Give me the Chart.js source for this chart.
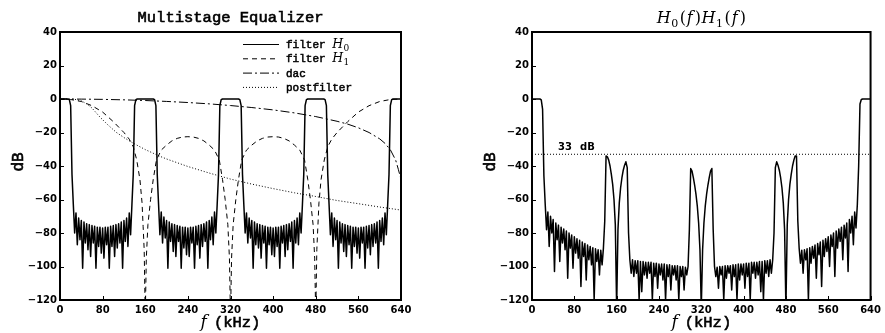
<!DOCTYPE html>
<html>
<head>
<meta charset="utf-8">
<script src="https://cdn.jsdelivr.net/npm/chart.js@4.4.1/dist/chart.umd.min.js"></script>
<style>
html,body{margin:0;padding:0;background:#fff;}
#wrap{position:relative;width:885px;height:333px;overflow:hidden;}
.box{position:absolute;top:0;height:333px;}
</style>
</head>
<body>
<div id="wrap">
  <div class="box" style="left:0;width:442px"><canvas id="left"></canvas></div>
  <div class="box" style="left:442px;width:443px"><canvas id="right"></canvas></div>
</div>
<script>
// ---------- data ----------
// frequency grid in kHz for the two rippled responses
const freqKHz = [
  0,2.5,5,7.5,10,12.5,15,17.5,20,22.5,25,27.5,30,32.5,35,37.5,
  40,42.5,45,47.5,50,52.5,55,57.5,60,62.5,65,67.5,70,72.5,75,77.5,
  80,82.5,85,87.5,90,92.5,95,97.5,100,102.5,105,107.5,110,112.5,115,117.5,
  120,122.5,125,127.5,130,132.5,135,137.5,140,142.5,145,147.5,150,152.5,155,157.5,
  160,162.5,165,167.5,170,172.5,175,177.5,180,182.5,185,187.5,190,192.5,195,197.5,
  200,202.5,205,207.5,210,212.5,215,217.5,220,222.5,225,227.5,230,232.5,235,237.5,
  240,242.5,245,247.5,250,252.5,255,257.5,260,262.5,265,267.5,270,272.5,275,277.5,
  280,282.5,285,287.5,290,292.5,295,297.5,300,302.5,305,307.5,310,312.5,315,317.5,
  320,322.5,325,327.5,330,332.5,335,337.5,340,342.5,345,347.5,350,352.5,355,357.5,
  360,362.5,365,367.5,370,372.5,375,377.5,380,382.5,385,387.5,390,392.5,395,397.5,
  400,402.5,405,407.5,410,412.5,415,417.5,420,422.5,425,427.5,430,432.5,435,437.5,
  440,442.5,445,447.5,450,452.5,455,457.5,460,462.5,465,467.5,470,472.5,475,477.5,
  480,482.5,485,487.5,490,492.5,495,497.5,500,502.5,505,507.5,510,512.5,515,517.5,
  520,522.5,525,527.5,530,532.5,535,537.5,540,542.5,545,547.5,550,552.5,555,557.5,
  560,562.5,565,567.5,570,572.5,575,577.5,580,582.5,585,587.5,590,592.5,595,597.5,
  600,602.5,605,607.5,610,612.5,615,617.5,620,622.5,625,627.5,630,632.5,635,637.5,
  640
];

// filter H0 (dB) on freqKHz
const h0Db = [
  0,0,0,0,0,0,-0.1,-0.4,-4,-45,-63,-80,-68,-87,-71,-84,
  -72.5,-101,-73.5,-86,-74.5,-90,-75,-94,-75.5,-86,-76,-101,-76.5,-88,-76.5,-92,
  -77,-95,-76.5,-87,-76.5,-101,-76,-88,-75.5,-94,-75,-89,-74.5,-86,-73.5,-101,
  -72.5,-85,-71,-88,-68,-81,-63,-45,-4,-0.4,0,0,0,0,0,0,
  0,0,0,0,0,0,0,-0.4,-4,-45,-63,-81,-67.5,-86,-70.5,-83,
  -72.5,-101,-73.5,-85,-74.5,-91,-75,-94,-75.5,-85,-76,-101,-76.5,-89,-76.5,-93,
  -77,-94,-76.5,-86,-76.5,-101,-76,-87,-75.5,-95,-75,-88,-74.5,-85,-73.5,-101,
  -72.5,-84,-70.5,-87,-67.5,-80,-63,-45,-4,-0.4,0,0,0,0,0,0,
  0,0,0,0,0,0,0,-0.4,-4,-45,-63,-80,-68,-86,-71,-83,
  -72.5,-101,-73.5,-87,-74.5,-89,-75,-95,-75.5,-86,-76,-101,-76.5,-87,-76.5,-93,
  -77,-94,-76.5,-88,-76.5,-101,-76,-86,-75.5,-94,-75,-90,-74.5,-85,-73.5,-101,
  -72.5,-86,-71,-87,-68,-80,-63,-45,-4,-0.4,0,0,0,0,0,0,
  0,0,0,0,0,0,0,-0.4,-4,-45,-63,-81,-68,-88,-71,-84,
  -72.5,-101,-73.5,-86,-74.5,-91,-75,-94,-75.5,-87,-76,-101,-76.5,-88,-76.5,-92,
  -77,-95,-76.5,-86,-76.5,-101,-76,-89,-75.5,-93,-75,-88,-74.5,-86,-73.5,-101,
  -72.5,-85,-71,-87,-68,-81,-63,-45,-4,-0.4,0,0,0,0,0,0,
  0
];

// product H0(f)H1(f) (dB) on freqKHz
const h0h1Db = [
  0,0,0,0,0,0,0,-0.5,-6,-46,-63,-78,-67.5,-88,-70,-80,
  -72,-103,-74,-84,-75.3,-97,-76.5,-86,-77.6,-90,-78.8,-107,-80,-89,-81.2,-101,
  -82.3,-92,-83.4,-95,-84.4,-112,-85.4,-94,-86.3,-108,-87.2,-96,-88,-99,-88.8,-120,
  -89.4,-97,-90,-105,-90.3,-99,-89,-73,-34,-34.5,-36.5,-40,-45,-51,-60,-75,
  -125,-78,-62,-53,-47,-42.5,-39.5,-37.5,-41,-80,-96,-104,-96,-106,-96.5,-104,
  -96.5,-120,-97,-115,-97,-105,-97.5,-107,-97.5,-104,-97.5,-120,-98,-106,-98,-113,
  -98.5,-105,-98.5,-108,-98.5,-120,-99,-106,-99,-114,-99.5,-105,-99.5,-108,-99.5,-120,
  -100,-106,-100,-114,-100.5,-105,-100,-78,-41.5,-43,-47,-51.5,-57,-64,-74,-90,
  -125,-90,-74,-64,-57,-51.5,-47,-43,-41.5,-78,-100,-106,-100.5,-113,-100,-105,
  -100,-120,-99.5,-107,-99.5,-104,-99.5,-114,-99,-106,-99,-120,-98.5,-108,-98.5,-105,
  -98.5,-113,-98,-106,-98,-120,-97.5,-104,-97.5,-107,-97.5,-105,-97,-115,-97,-120,
  -96.5,-104,-96.5,-106,-96,-104,-96,-80,-41,-37.5,-39.5,-42.5,-47,-53,-62,-78,
  -125,-75,-60,-51,-45,-40,-36.5,-34,-34,-73,-89,-98,-90.3,-104,-90,-96,
  -89.4,-120,-88.8,-98,-88,-95,-87.2,-107,-86.3,-93,-85.4,-112,-84.4,-94,-83.4,-91,
  -82.3,-100,-81.2,-88,-80,-106,-78.8,-89,-77.6,-85,-76.5,-96,-75.3,-83,-74,-103,
  -72,-80,-70,-87,-67.5,-77,-63,-40,-3,-0.3,0,0,0,0,0,0,
  0
];

// filter H1 (dashed)
const h1Freq = [0,20,40,60,80,100,120,130,137.5,144,150,154,156,158,160,
  162,165,170,175,181,190,200,210,220,230,240,250,260,270,280,290,299,305,310,315,318,320,
  322,325,330,335,341,350,360,370,380,390,400,410,420,430,440,450,459,465,470,475,478,480,
  482,484,486,490,496,502.5,510,520,540,560,580,600,620,640];
const h1Db = [0,-0.3,-1.5,-4,-7.8,-13.5,-20,-24,-28.5,-36.4,-48,-62,-76,-90,-130,
  -95,-75,-60,-48,-36.4,-30.5,-27.5,-25,-23.5,-22.7,-22.5,-22.7,-23.5,-25,-27.5,-30.5,-36.4,-48,-60,-75,-95,-130,
  -95,-75,-60,-48,-36.4,-30.5,-27.5,-25,-23.5,-22.7,-22.5,-22.7,-23.5,-25,-27.5,-30.5,-36.4,-48,-60,-75,-95,-130,
  -90,-76,-62,-48,-36.4,-28.5,-24,-20,-13.5,-7.8,-4,-1.5,-0.3,0];

// dac (dash-dot)
const dacFreq = [0,40,80,120,160,200,240,280,320,360,400,440,480,520,540,560,580,600,610,620,630,635,640];
const dacDb = [0,-0.06,-0.22,-0.5,-0.91,-1.45,-2.1,-2.9,-3.9,-5.1,-6.5,-8.3,-10.5,-13.3,-15,-17.2,-20,-23.8,-26.5,-30.3,-36.5,-42,-48];

// postfilter (dotted)
const postFreq = [0,20,30,40,50,60,75,90,106,120,137.5,160,187.5,200,240,280,320,360,400,440,480,520,560,600,640];
const postDb = [0,-0.05,-0.3,-1.1,-2.9,-5.4,-10.8,-15.5,-20,-23,-26.4,-30.2,-34.2,-35.8,-40.3,-44.2,-47.8,-50.8,-53.5,-56,-58.2,-60.6,-62.5,-64.5,-66.3];

// 33 dB reference level on the right panel
const refLevelFreq = [0, 640];
const refLevelDb = [-33, -33];

// ticks
const xTicks = [0,80,160,240,320,400,480,560,640];
const yTicks = [40,20,0,-20,-40,-60,-80,-100,-120];

// text
const leftTitle = 'Multistage Equalizer';
const legendNames = ['filter ', 'filter ', 'dac', 'postfilter'];
const legendSubs = ['0', '1', null, null];
const refLabel = ['33', 'dB'];

// ---------- chart ----------
Chart.defaults.color = '#000';
Chart.defaults.font.family = 'DejaVu Sans';

const pts = (xs, ys) => xs.map((x, i) => ({x: x, y: ys[i]}));
const tickFont = {family: 'DejaVu Sans', weight: 'bold', size: 10};
const MONO = 'Liberation Mono';
const SERIF = 'DejaVu Serif';

function makeScales(yWidth) {
  return {
    x: {
      type: 'linear', min: 0, max: 640,
      grid: {display: false, drawTicks: false}, border: {display: false},
      afterBuildTicks: s => { s.ticks = xTicks.map(v => ({value: v})); },
      afterFit: s => { s.height = 33; },
      ticks: {font: tickFont, padding: 4, maxRotation: 0, autoSkip: false, callback: v => String(v)}
    },
    y: {
      type: 'linear', min: -120, max: 40,
      grid: {display: false, drawTicks: false}, border: {display: false},
      afterBuildTicks: s => { s.ticks = yTicks.map(v => ({value: v})); },
      afterFit: s => { s.width = yWidth; },
      ticks: {font: tickFont, padding: 3, autoSkip: false, callback: v => String(v).replace('-', '\u2212')}
    }
  };
}

// draw mixed-style text; thin outline thickens the light mono face
function rich(ctx, parts, x, y, align) {
  let w = 0;
  parts.forEach(p => { ctx.font = p.f; p.w = ctx.measureText(p.t).width; w += p.w + (p.g || 0); });
  let cx = align === 'center' ? x - w / 2 : x;
  ctx.textAlign = 'left';
  ctx.textBaseline = 'alphabetic';
  ctx.fillStyle = '#000';
  ctx.strokeStyle = '#000';
  ctx.setLineDash([]);
  parts.forEach(p => {
    ctx.font = p.f;
    ctx.fillText(p.t, cx, y + (p.dy || 0));
    if (p.s) { ctx.lineWidth = p.s; ctx.strokeText(p.t, cx, y + (p.dy || 0)); }
    cx += p.w + (p.g || 0);
  });
}

function decor(extra) {
  return {
    id: 'decor',
    afterDraw(chart) {
      const ctx = chart.ctx, a = chart.chartArea, xs = chart.scales.x, ys = chart.scales.y;
      ctx.save();
      ctx.strokeStyle = '#000';
      ctx.lineWidth = 1;
      ctx.setLineDash([]);
      ctx.beginPath();
      yTicks.forEach(v => { const py = Math.round(ys.getPixelForValue(v)) + 0.5; ctx.moveTo(a.left, py); ctx.lineTo(a.left + 4, py); });
      xTicks.forEach(v => { const px = Math.round(xs.getPixelForValue(v)) + 0.5; ctx.moveTo(px, a.bottom); ctx.lineTo(px, a.bottom - 4); });
      ctx.stroke();
      ctx.lineWidth = 2;
      ctx.strokeRect(a.left, a.top, a.right - a.left, a.bottom - a.top);
      // x title
      const cxm = (a.left + a.right) / 2;
      rich(ctx, [
        {t: 'f', f: 'italic 17px "' + SERIF + '"', g: 7},
        {t: '(kHz)', f: '15.5px "' + MONO + '"', s: 0.6}
      ], cxm, 327, 'center');
      // y title
      ctx.save();
      ctx.translate(a.left - 37, 162);
      ctx.rotate(-Math.PI / 2);
      rich(ctx, [{t: 'dB', f: '16px "' + MONO + '"', s: 0.6}], 0, 0, 'center');
      ctx.restore();
      extra(ctx, a, xs, ys);
      ctx.restore();
    }
  };
}

const common = {
  responsive: true, maintainAspectRatio: false, animation: false, devicePixelRatio: 1,
  events: [],
  plugins: {legend: {display: false}, tooltip: {enabled: false}, title: {display: false}}
};

const lineStyle = (dash, w) => ({borderColor: '#000', borderWidth: w || 1, pointRadius: 0, tension: 0, fill: false, borderDash: dash, clip: 0, borderJoinStyle: 'round'});

// left panel
new Chart(document.getElementById('left'), {
  type: 'line',
  data: {datasets: [
    Object.assign({label: 'filter H0', data: pts(freqKHz, h0Db)}, lineStyle([], 1.5)),
    Object.assign({label: 'filter H1', data: pts(h1Freq, h1Db)}, lineStyle([5, 4])),
    Object.assign({label: 'dac', data: pts(dacFreq, dacDb)}, lineStyle([9, 3, 2, 3])),
    Object.assign({label: 'postfilter', data: pts(postFreq, postDb)}, lineStyle([1, 2]))
  ]},
  options: Object.assign({}, common, {
    layout: {padding: {left: 0, right: 41, top: 32, bottom: 0}},
    scales: makeScales(60)
  }),
  plugins: [decor((ctx, a) => {
    rich(ctx, [{t: leftTitle, f: '15.5px "' + MONO + '"', s: 0.6}], (a.left + a.right) / 2, 22, 'center');
    const dashes = [[], [5, 4], [9, 3, 2, 3], [1, 2]];
    const base = [48, 62.3, 76.6, 90.9];
    dashes.forEach((d, i) => {
      ctx.save();
      ctx.strokeStyle = '#000';
      ctx.lineWidth = 1;
      ctx.setLineDash(d);
      ctx.beginPath();
      ctx.moveTo(243, base[i] - 3.5);
      ctx.lineTo(279, base[i] - 3.5);
      ctx.stroke();
      ctx.restore();
      const parts = [{t: legendNames[i], f: '11px "' + MONO + '"', s: 0.5}];
      if (legendSubs[i] !== null) {
        parts.push({t: 'H', f: 'italic 12.5px "' + SERIF + '"', g: 0.5});
        parts.push({t: legendSubs[i], f: '9px "' + SERIF + '"', dy: 2.5});
      }
      rich(ctx, parts, 286, base[i], 'left');
    });
  })]
});

// right panel
new Chart(document.getElementById('right'), {
  type: 'line',
  data: {datasets: [
    Object.assign({label: 'H0H1', data: pts(freqKHz, h0h1Db)}, lineStyle([], 1.5)),
    Object.assign({label: '33 dB', data: pts(refLevelFreq, refLevelDb)}, lineStyle([1, 2]))
  ]},
  options: Object.assign({}, common, {
    layout: {padding: {left: 0, right: 12, top: 32, bottom: 0}},
    scales: makeScales(90)
  }),
  plugins: [decor((ctx, a) => {
    const it = 'italic 16px "' + SERIF + '"', up = '16px "' + SERIF + '"', sb = '11px "' + SERIF + '"';
    rich(ctx, [
      {t: 'H', f: it, g: 0.5}, {t: '0', f: sb, dy: 3.5, g: 1.5}, {t: '(', f: up, g: 1}, {t: 'f', f: it, g: 2}, {t: ')', f: up, g: 0.5},
      {t: 'H', f: it, g: 0.5}, {t: '1', f: sb, dy: 3.5, g: 1.5}, {t: '(', f: up, g: 1}, {t: 'f', f: it, g: 2}, {t: ')', f: up}
    ], (a.left + a.right) / 2, 23, 'center');
    ctx.font = 'bold 10px "DejaVu Sans"';
    ctx.fillStyle = '#000';
    ctx.textAlign = 'left';
    ctx.textBaseline = 'alphabetic';
    ctx.fillText(refLabel[0], 116, 150);
    ctx.fillText(refLabel[1], 138, 150);
  })]
});
</script>
</body>
</html>
